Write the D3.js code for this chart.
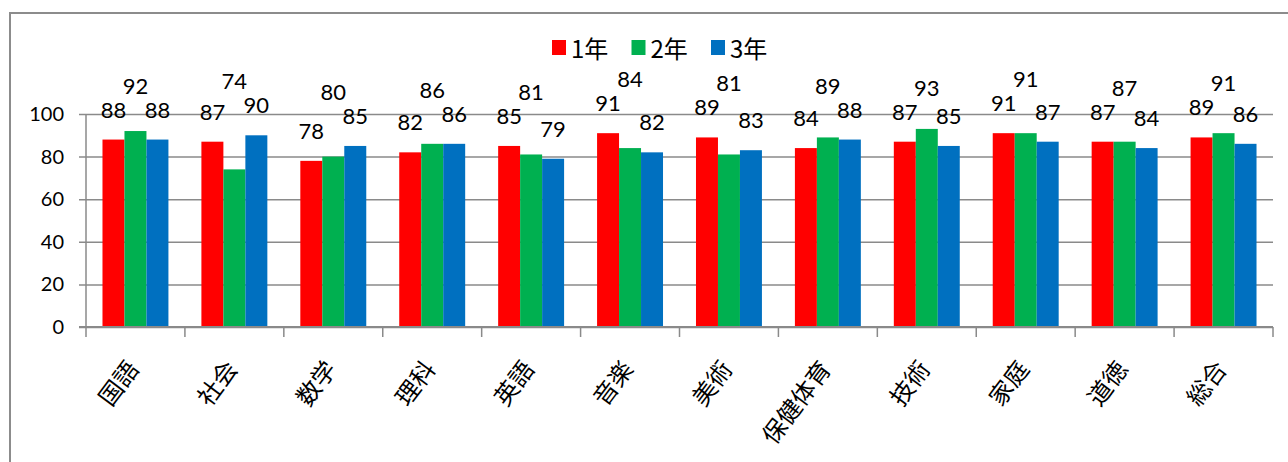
<!DOCTYPE html>
<html>
<head>
<meta charset="utf-8">
<script src="https://cdn.jsdelivr.net/npm/d3@7"></script>
<style>
  html, body { margin: 0; padding: 0; background: #fff; }
  svg { display: block; }
</style>
</head>
<body>
<svg id="chart" width="1288" height="462"></svg>
<script>
// ---- data ----
const categories = ["国語", "社会", "数学", "理科", "英語", "音楽", "美術", "保健体育", "技術", "家庭", "道徳", "総合"];
const seriesNames = ["1年", "2年", "3年"];
const grade1 = [88, 87, 78, 82, 85, 91, 89, 84, 87, 91, 87, 89];
const grade2 = [92, 74, 80, 86, 81, 84, 81, 89, 93, 91, 87, 91];
const grade3 = [88, 90, 85, 86, 79, 82, 83, 88, 85, 87, 84, 86];
const yTicks = [0, 20, 40, 60, 80, 100];

// ---- layout / style ----
const W = 1288, H = 462;
const plot = { left: 86, right: 1273, top: 114, bottom: 327 };
const colors = ["#FF0000", "#00B050", "#0070C0"];
const gridColor = "#8a8a8a";
const numFont = "Lato, 'Liberation Sans', sans-serif";
const cjkFont = "'Noto Sans CJK JP', 'Noto Sans CJK SC', sans-serif";

const svg = d3.select("#chart");
const seriesValues = [grade1, grade2, grade3];

// outer chart border (only top and left edges visible in frame)
svg.append("rect")
  .attr("x", 10).attr("y", 13)
  .attr("width", W + 40).attr("height", H + 40)
  .attr("fill", "none").attr("stroke", "#8c8c8c").attr("stroke-width", 2);

const x0 = d3.scaleBand().domain(categories).range([plot.left, plot.right]).paddingInner(0).paddingOuter(0);
const x1 = d3.scaleBand().domain(seriesNames).range([0, x0.bandwidth()]).paddingInner(0).paddingOuter(0.75);
const y = d3.scaleLinear().domain([0, 100]).range([plot.bottom, plot.top]);

// gridlines + y ticks
const yAxis = d3.axisLeft(y).tickValues(yTicks).tickSize(-(plot.right - plot.left + 7)).tickPadding(15).tickFormat(d3.format("d"));
const gy = svg.append("g").attr("transform", `translate(${plot.left - 7},0)`).call(yAxis);
gy.select(".domain").remove();
gy.selectAll(".tick line").attr("stroke", gridColor).attr("stroke-width", 1.5);
gy.selectAll(".tick text")
  .attr("x", -15)
  .attr("font-family", numFont).attr("font-size", 20).attr("fill", "#000");

// bars
const groups = svg.append("g").selectAll("g")
  .data(categories)
  .join("g")
  .attr("transform", d => `translate(${x0(d)},0)`);

groups.selectAll("rect")
  .data((c, i) => seriesNames.map((s, k) => ({ s, k, v: seriesValues[k][i] })))
  .join("rect")
  .attr("x", d => x1(d.s))
  .attr("width", x1.bandwidth())
  .attr("y", d => y(d.v))
  .attr("height", d => y(0) - y(d.v))
  .attr("fill", d => colors[d.k]);

// x axis line and category ticks
const xAxisG = svg.append("g");
xAxisG.append("line")
  .attr("x1", plot.left - 7).attr("x2", plot.right)
  .attr("y1", y(0)).attr("y2", y(0))
  .attr("stroke", gridColor).attr("stroke-width", 2);
xAxisG.append("line")
  .attr("x1", plot.left).attr("x2", plot.left)
  .attr("y1", y(100)).attr("y2", y(0) + 10)
  .attr("stroke", gridColor).attr("stroke-width", 1.5);
const boundaries = categories.map(c => x0(c)).concat([x0(categories[categories.length - 1]) + x0.step()]);
xAxisG.selectAll("line.ctick")
  .data(boundaries.slice(1))
  .join("line")
  .attr("class", "ctick")
  .attr("x1", d => d).attr("x2", d => d)
  .attr("y1", y(0)).attr("y2", y(0) + 10)
  .attr("stroke", gridColor).attr("stroke-width", 1.5);

// category labels (rotated)
svg.append("g").selectAll("text")
  .data(categories)
  .join("text")
  .attr("transform", d => `translate(${x0(d) + x0.bandwidth() / 2 - 4},${y(0) + 36}) rotate(-53)`)
  .attr("text-anchor", "end")
  .attr("dominant-baseline", "central")
  .attr("font-family", cjkFont)
  .attr("font-size", 24)
  .attr("fill", "#000")
  .text(d => d);

// data labels: 1年/3年 just above bar, 2年 stacked above its neighbours
const labelG = svg.append("g");
categories.forEach((c, i) => {
  const base = seriesValues.map(arr => y(arr[i]) - 22);
  const pos = [base[0], Math.min(base[0], base[2]) - 24, base[2]];
  seriesNames.forEach((s, k) => {
    labelG.append("text")
      .attr("x", x0(c) + x1(s) + x1.bandwidth() / 2)
      .attr("y", pos[k])
      .attr("text-anchor", "middle")
      .attr("font-family", numFont)
      .attr("font-size", 22)
      .attr("fill", "#000")
      .text(seriesValues[k][i]);
  });
});

// legend
const legendStart = 552, legendStep = 79.5;
const lg = svg.append("g").selectAll("g")
  .data(seriesNames)
  .join("g")
  .attr("transform", (d, i) => `translate(${legendStart + i * legendStep},40)`);
lg.append("rect").attr("width", 14).attr("height", 15).attr("fill", (d, i) => colors[i]);
lg.append("text")
  .attr("x", 19).attr("y", 7.5)
  .attr("dominant-baseline", "central")
  .attr("font-family", cjkFont)
  .attr("font-size", 24)
  .attr("fill", "#000")
  .text(d => d);
</script>
</body>
</html>
